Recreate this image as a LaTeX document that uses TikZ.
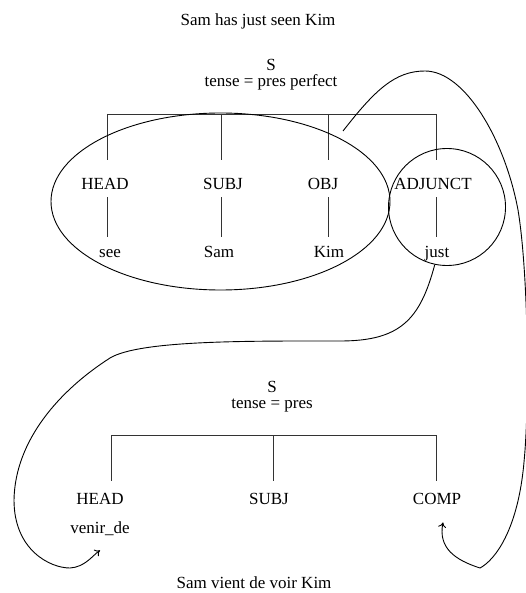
\documentclass[tikz,border=0pt]{standalone}
\usepackage{fontspec}
\setmainfont{Liberation Serif}
\usetikzlibrary{positioning,shapes.geometric,arrows.meta}

\begin{document}
\begin{tikzpicture}
	[x=1pt,y=1pt,line width=0.9pt,>={To[length=5pt,width=8pt]},
	word/.style={anchor=base,inner sep=0pt,text height=12pt,text depth=3pt,font=\fontsize{17}{20}\selectfont},
	branch/.style={draw=black!80},
	group/.style={draw,inner sep=0pt}]
	\useasboundingbox (0,0) rectangle (526,-593);

	% source tree
	\node [word] (title1) at (258,-26) {Sam has just seen Kim};
	\node [word] (s1) at (271,-71) {S};
	\node [word] (tense1) [below=0pt of s1] {tense = pres perfect};

	\node [word] (head1) at (105,-190) {HEAD};
	\node [word] (subj1) at (223,-190) {SUBJ};
	\node [word] (obj1) at (323,-190) {OBJ};
	\node [word] (adj1) at (433,-190) {ADJUNCT};

	\node [word] (see) at (110,-258) {see};
	\node [word] (sam1) at (219,-258) {Sam};
	\node [word] (kim1) at (329,-258) {Kim};
	\node [word] (just) at (437,-258) {just};

	\coordinate (top1) at (107,-114);
	\coordinate (top2) at (221,-114);
	\coordinate (top3) at (328,-114);
	\coordinate (top4) at (436,-114);
	\draw [branch] (top1) -- (top4);
	\foreach \t/\f/\w in {top1/head1/see, top2/subj1/sam1, top3/obj1/kim1, top4/adj1/just} {
		\draw [branch,shorten >=18pt] (\t) -- (\t |- \f.north);
		\draw [branch,shorten <=4pt,shorten >=9pt] (\t |- \f.south) -- (\t |- \w.north);
	}

	\node [group,ellipse,minimum width=339pt,minimum height=177pt] (grp) at (220.5,-201.5) {};
	\node [group,circle,minimum size=117pt] (adjgrp) at (447,-207) {};

	% target tree
	\node [word] (s2) at (272,-392.5) {S};
	\node [word] (tense2) [below=0pt of s2] {tense = pres};

	\node [word] (head2) at (100,-504) {HEAD};
	\node [word] (subj2) at (269,-504) {SUBJ};
	\node [word] (comp2) at (437,-504) {COMP};
	\node [word] (venir) [below=14pt of head2] {venir\_de};

	\node [word] (title2) at (254,-588) {Sam vient de voir Kim};

	\coordinate (bot1) at (111,-435);
	\coordinate (bot2) at (273,-435);
	\coordinate (bot3) at (436,-435);
	\draw [branch] (bot1) -- (bot3);
	\foreach \b/\f in {bot1/head2, bot2/subj2, bot3/comp2}
		\draw [branch,shorten >=11pt] (\b) -- (\b |- \f.north);

	% transfer links
	\coordinate (c1) at (343,-131);
	\draw [->] (c1) .. controls (375,-90) and (395,-71) .. (425,-71)
		.. controls (465,-71) and (505,-140) .. (518,-210)
		.. controls (528,-270) and (530,-400) .. (524,-462)
		.. controls (518,-530) and (495,-560) .. (480,-568)
		.. controls (455,-560) and (438,-548) .. ([shift={(6pt,-15pt)}]comp2.south);
	\draw [->] (adjgrp.258) .. controls (420,-320) and (400,-341) .. (340,-341)
		.. controls (250,-341) and (140,-340) .. (110,-358)
		.. controls (60,-390) and (15,-440) .. (14,-500)
		.. controls (14,-550) and (50,-568) .. (70,-568)
		.. controls (85,-567) and (92,-556) .. ([yshift=-13pt]venir.south);
\end{tikzpicture}
\end{document}
